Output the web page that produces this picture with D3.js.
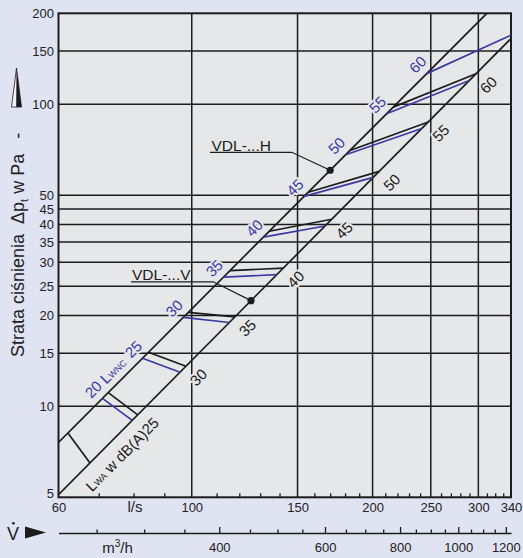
<!DOCTYPE html>
<html><head><meta charset="utf-8">
<script src="https://cdn.jsdelivr.net/npm/d3@7"></script>
<style>
html,body{margin:0;padding:0;background:#e0e3f2;}
svg{display:block;font-family:"Liberation Sans",Arial,Helvetica,sans-serif;}
</style></head><body>
<svg id="chart" width="523" height="558"></svg>
<script>
// Flow axis, l/s
const flowLabels = [60, 100, 150, 200, 250, 300, 340];
const flowGrid = [100, 150, 200, 250, 300];
const flowMinor = [70, 80, 90, 110, 120, 130, 140, 160, 170, 180, 190, 210, 220, 230, 240, 260, 270, 280, 290, 310, 320, 330];
// Flow axis, m³/h
const m3hMajor = [400, 600, 800, 1000, 1200];
const m3hMinor = [250, 300, 350, 450, 500, 550, 650, 700, 750, 850, 900, 950, 1050, 1100, 1150];
// Pressure axis, Pa
const pressureLabels = [5, 10, 15, 20, 25, 30, 35, 40, 45, 50, 100, 150, 200];
const pressureGrid = [10, 15, 20, 25, 30, 35, 40, 45, 50, 100, 150];

// Pressure-loss characteristics: [flow l/s, Δp Pa]
const curveH = [[60, 7.6], [310, 200]];
const curveV = [[60, 5.1], [340, 165]];

// L_WA dB(A) lines: flow where each line meets curve H and curve V
const lwaLabels = ["", "25", "30", "35", "40", "45", "50", "55", "60"];
const lwaFlowH = [62.2, 72.6, 84.7, 98.7, 115.8, 134.6, 156.3, 183.4, 216.5];
const lwaFlowV = [67.7, 81.3, 97.8, 118.0, 142.0, 171.0, 205.2, 247.6, 297.3];
// L_WNC lines
const lwncLabels = ["20", "25", "30", "35", "40", "45", "50", "55", "60"];
const lwncFlowH = [71.0, 82.8, 96.8, 112.9, 131.6, 153.8, 180.4, 211.1, 246.1];
const lwncFlowV = [79.6, 95.6, 115.5, 138.5, 166.7, 200.5, 241.5, 289.8, 348.0];

// Marked operating points on each characteristic (l/s)
const markFlowH = 170;
const markFlowV = 125.5;

const W = 523, H = 558;
const L = 58.5, R = 511, T = 13.3, B = 497.3;
const INK = "#1c1c1c", BLUE = "#3a3aa6", PLOT_BG = "#e6e7e9";

const x = d3.scaleLog().domain([60, 340]).range([L, R]);
const y = d3.scaleLog().domain([5, 200]).range([B, T]);
const xm = d3.scaleLog().domain([60 * 3.6, 340 * 3.6]).range([L, R]);

// power law through the two points of a characteristic
function powerLaw(c) {
  const n = Math.log(c[1][1] / c[0][1]) / Math.log(c[1][0] / c[0][0]);
  return q => c[0][1] * Math.pow(q / c[0][0], n);
}
const dpH = powerLaw(curveH), dpV = powerLaw(curveV);

const svg = d3.select("#chart");
svg.append("rect").attr("width", W).attr("height", H).attr("fill", "#e0e3f2");
svg.append("rect").attr("x", L).attr("y", T).attr("width", R - L).attr("height", B - T).attr("fill", PLOT_BG);

svg.append("defs").append("clipPath").attr("id", "plotClip")
  .append("rect").attr("x", L).attr("y", T).attr("width", R - L).attr("height", B - T);

// grid
const grid = svg.append("g").attr("stroke", INK).attr("stroke-width", 1.5);
grid.selectAll(".hg").data(pressureGrid).join("line").attr("class", "hg")
  .attr("x1", L).attr("x2", R).attr("y1", d => y(d)).attr("y2", d => y(d));
grid.selectAll(".vg").data(flowGrid).join("line").attr("class", "vg")
  .attr("y1", T).attr("y2", B).attr("x1", d => x(d)).attr("x2", d => x(d));

// minor flow ticks along the bottom edge
svg.append("g").attr("transform", `translate(0,${B})`)
  .call(d3.axisBottom(x).tickValues(flowMinor).tickSize(-4).tickFormat(""))
  .call(g => g.select(".domain").remove())
  .call(g => g.selectAll(".tick line").attr("stroke", INK).attr("stroke-width", 1.3));

// l/s labels
svg.append("g").attr("transform", `translate(0,${B})`)
  .call(d3.axisBottom(x).tickValues(flowLabels).tickSize(0).tickPadding(5.5).tickFormat(d3.format("d")))
  .call(g => g.select(".domain").remove())
  .call(g => g.selectAll("text").attr("font-size", 13).attr("fill", "#222").attr("font-family", null));

// pressure labels; the lowest one sits just above the corner
svg.append("g").attr("transform", `translate(${L},0)`)
  .call(d3.axisLeft(y).tickValues(pressureLabels).tickSize(0).tickPadding(4.5).tickFormat(d3.format("d")))
  .call(g => g.select(".domain").remove())
  .call(g => g.selectAll("text").attr("font-size", 13).attr("fill", "#222").attr("font-family", null))
  .call(g => g.selectAll(".tick").filter(d => d === 5).select("text").attr("dy", "0.05em"));

// plot frame
svg.append("rect").attr("x", L).attr("y", T).attr("width", R - L).attr("height", B - T)
  .attr("fill", "none").attr("stroke", INK).attr("stroke-width", 2);

// characteristics and sound lines
const plot = svg.append("g").attr("clip-path", "url(#plotClip)");
const line = d3.line().x(d => x(d[0])).y(d => y(d[1]));
plot.selectAll(".curve").data([curveH, curveV]).join("path").attr("class", "curve")
  .attr("d", line).attr("fill", "none").attr("stroke", INK).attr("stroke-width", 1.7);

const lwa = lwaFlowH.map((q, i) => ({ label: lwaLabels[i], qH: q, qV: lwaFlowV[i] }));
const lwnc = lwncFlowH.map((q, i) => ({ label: lwncLabels[i], qH: q, qV: lwncFlowV[i] }));

plot.selectAll(".lwa").data(lwa).join("line").attr("class", "lwa")
  .attr("x1", d => x(d.qH)).attr("y1", d => y(dpH(d.qH)))
  .attr("x2", d => x(d.qV)).attr("y2", d => y(dpV(d.qV)))
  .attr("stroke", INK).attr("stroke-width", 1.7);
plot.selectAll(".lwnc").data(lwnc).join("line").attr("class", "lwnc")
  .attr("x1", d => x(d.qH)).attr("y1", d => y(dpH(d.qH)))
  .attr("x2", d => x(d.qV)).attr("y2", d => y(dpV(d.qV)))
  .attr("stroke", BLUE).attr("stroke-width", 1.7);

// level numbers, written along the characteristics
const LABEL_SIZE = 15;
function haloText(sel) {
  return sel.attr("stroke", PLOT_BG).attr("stroke-width", 4).attr("paint-order", "stroke")
    .attr("stroke-linejoin", "round");
}
const wncG = svg.selectAll(".wncLab").data(lwnc).join("g").attr("class", "wncLab")
  .attr("transform", d => `translate(${x(d.qH)},${y(dpH(d.qH))}) rotate(-45)`);
wncG.append("text").attr("x", 0).attr("y", -13).attr("text-anchor", "middle")
  .attr("dominant-baseline", "central").attr("font-size", LABEL_SIZE).attr("fill", BLUE)
  .text(d => d.label).call(haloText);

const waG = svg.selectAll(".waLab").data(lwa.filter(d => d.label)).join("g").attr("class", "waLab")
  .attr("transform", d => `translate(${x(d.qV)},${y(dpV(d.qV))}) rotate(-45)`);
waG.append("text").attr("x", 1).attr("y", 16.5).attr("text-anchor", "middle")
  .attr("dominant-baseline", "central").attr("font-size", LABEL_SIZE).attr("fill", INK)
  .text(d => d.label).call(haloText);

// series names next to the first numbers
const firstWnc = wncG.filter((d, i) => i === 0);
const wW = firstWnc.select("text").node().getComputedTextLength();
const tWnc = firstWnc.append("text").attr("x", wW / 2 + 4).attr("y", -13)
  .attr("dominant-baseline", "central").attr("font-size", LABEL_SIZE).attr("fill", BLUE).call(haloText);
tWnc.append("tspan").text("L");
tWnc.append("tspan").attr("font-size", 9).attr("dy", 3).text("WNC");

const firstWa = waG.filter((d, i) => i === 0);
const aW = firstWa.select("text").node().getComputedTextLength();
const tWa = firstWa.append("text").attr("x", 1 - aW / 2).attr("y", 16.5).attr("text-anchor", "end")
  .attr("dominant-baseline", "central").attr("font-size", LABEL_SIZE).attr("fill", INK).call(haloText);
tWa.append("tspan").text("L");
tWa.append("tspan").attr("font-size", 9).attr("dy", 3).text("WA");
tWa.append("tspan").attr("dy", -3).text(" w dB(A)");

// type annotations with leaders to the marked points
function annotate(label, tx, ty, ux1, ux2, uy, q, dp) {
  const px = x(q), py = y(dp(q));
  svg.append("text").attr("x", tx).attr("y", ty).attr("font-size", 15.5).attr("fill", INK).text(label);
  svg.append("path").attr("d", `M${ux1},${uy}H${ux2}L${px},${py}`)
    .attr("fill", "none").attr("stroke", INK).attr("stroke-width", 1.2);
  svg.append("circle").attr("cx", px).attr("cy", py).attr("r", 3.6).attr("fill", INK);
}
annotate("VDL-...H", 211.5, 150.5, 210, 291.7, 152.3, markFlowH, dpH);
annotate("VDL-...V", 132, 280, 131, 213.3, 281.8, markFlowV, dpV);

// m³/h axis
const mAxisY = 533;
svg.append("g").attr("transform", `translate(0,${mAxisY})`)
  .call(d3.axisBottom(xm).tickValues(m3hMinor).tickSize(-3.5).tickFormat(""))
  .call(g => g.select(".domain").remove())
  .call(g => g.selectAll(".tick line").attr("stroke", INK).attr("stroke-width", 1.3));
svg.append("g").attr("transform", `translate(0,${mAxisY})`)
  .call(d3.axisBottom(xm).tickValues(m3hMajor).tickSize(-6).tickSizeOuter(0).tickPadding(9.3).tickFormat(d3.format("d")))
  .call(g => g.select(".domain").attr("stroke", INK).attr("stroke-width", 1.6))
  .call(g => g.selectAll(".tick line").attr("stroke", INK).attr("stroke-width", 1.3))
  .call(g => g.selectAll("text").attr("font-size", 13).attr("fill", "#222").attr("font-family", null));

// unit captions
svg.append("text").attr("x", 135).attr("y", 512).attr("text-anchor", "middle")
  .attr("font-size", 15).attr("fill", "#222").text("l/s");
const m3 = svg.append("text").attr("x", 117.5).attr("y", 553).attr("text-anchor", "middle")
  .attr("font-size", 15).attr("fill", "#222");
m3.append("tspan").text("m");
m3.append("tspan").attr("font-size", 10).attr("dy", -6).text("3");
m3.append("tspan").attr("dy", 6).text("/h");

// flow symbol with arrow
svg.append("text").attr("x", 13).attr("y", 539.5).attr("text-anchor", "middle")
  .attr("font-size", 18).attr("fill", INK).text("V");
svg.append("circle").attr("cx", 13.4).attr("cy", 523.3).attr("r", 1.3).attr("fill", INK);
svg.append("path").attr("d", "M25,526.5L46,532.6L25,538.6Z").attr("fill", INK);

// pressure title, rotated
const title = svg.append("text").attr("transform", "translate(23.5,357) rotate(-90)")
  .attr("font-size", 18).attr("fill", "#222").style("white-space", "pre");
title.append("tspan").text("Strata ciśnienia  Δp");
title.append("tspan").attr("font-size", 11).attr("dy", 4).text("t");
title.append("tspan").attr("dy", -4).text(" w Pa   -");

// upward arrow above the title
svg.append("path").attr("d", "M16.5,68L11.5,107H21.5Z")
  .attr("fill", "#f2f2f6").attr("stroke", INK).attr("stroke-width", 0.8);
svg.append("path").attr("d", "M16.5,68L16.2,107H21.5Z").attr("fill", INK);
</script>
</body></html>
